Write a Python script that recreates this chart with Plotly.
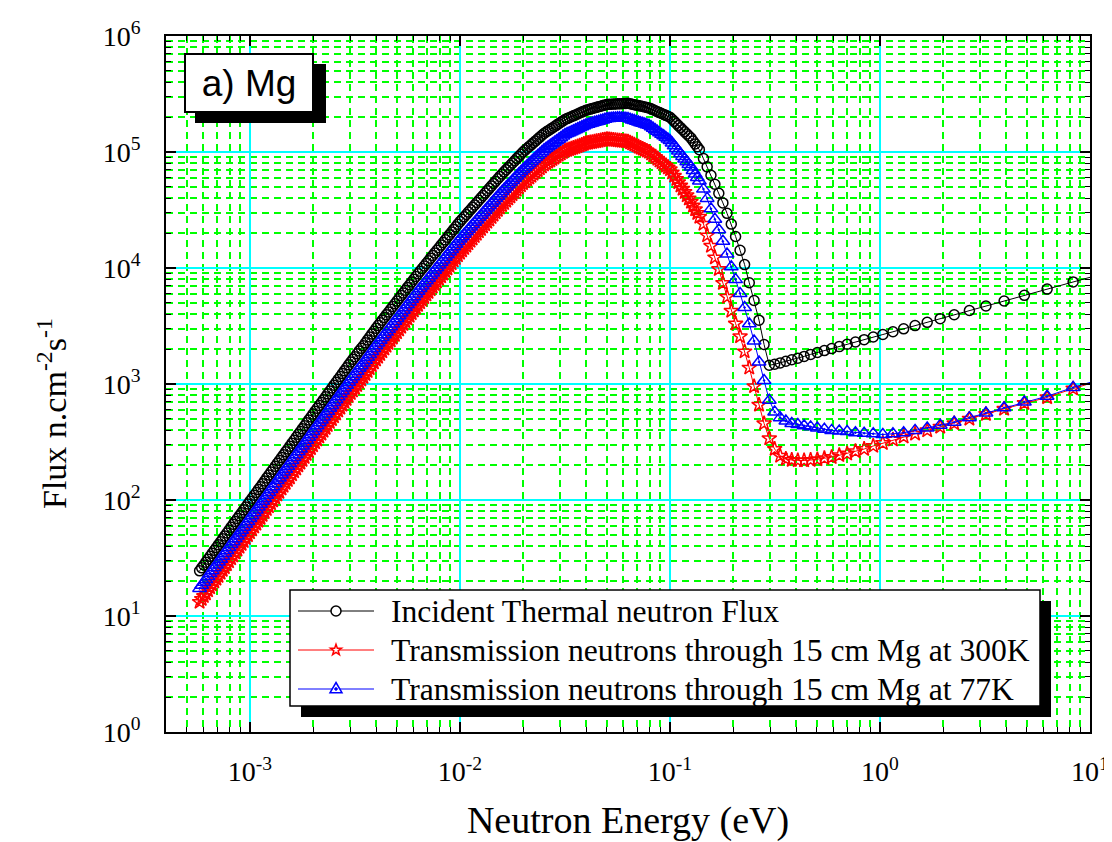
import plotly.graph_objects as go

# Neutron energy (eV), shared by all three series
energy_eV = [
    5.754e-4, 5.888e-4, 6.026e-4, 6.166e-4, 6.310e-4, 6.457e-4, 6.607e-4, 6.761e-4, 6.918e-4, 7.079e-4,
    7.244e-4, 7.413e-4, 7.586e-4, 7.762e-4, 7.943e-4, 8.128e-4, 8.318e-4, 8.511e-4, 8.710e-4, 8.913e-4,
    9.120e-4, 9.333e-4, 9.550e-4, 9.772e-4, 1.000e-3, 1.023e-3, 1.047e-3, 1.072e-3, 1.096e-3, 1.122e-3,
    1.148e-3, 1.175e-3, 1.202e-3, 1.230e-3, 1.259e-3, 1.288e-3, 1.318e-3, 1.349e-3, 1.380e-3, 1.413e-3,
    1.445e-3, 1.479e-3, 1.514e-3, 1.549e-3, 1.585e-3, 1.622e-3, 1.660e-3, 1.698e-3, 1.738e-3, 1.778e-3,
    1.820e-3, 1.862e-3, 1.905e-3, 1.950e-3, 1.995e-3, 2.042e-3, 2.089e-3, 2.138e-3, 2.188e-3, 2.239e-3,
    2.291e-3, 2.344e-3, 2.399e-3, 2.455e-3, 2.512e-3, 2.570e-3, 2.630e-3, 2.692e-3, 2.754e-3, 2.818e-3,
    2.884e-3, 2.951e-3, 3.020e-3, 3.090e-3, 3.162e-3, 3.236e-3, 3.311e-3, 3.388e-3, 3.467e-3, 3.548e-3,
    3.631e-3, 3.715e-3, 3.802e-3, 3.890e-3, 3.981e-3, 4.074e-3, 4.169e-3, 4.266e-3, 4.365e-3, 4.467e-3,
    4.571e-3, 4.677e-3, 4.786e-3, 4.898e-3, 5.012e-3, 5.129e-3, 5.248e-3, 5.370e-3, 5.495e-3, 5.623e-3,
    5.754e-3, 5.888e-3, 6.026e-3, 6.166e-3, 6.310e-3, 6.457e-3, 6.607e-3, 6.761e-3, 6.918e-3, 7.079e-3,
    7.244e-3, 7.413e-3, 7.586e-3, 7.762e-3, 7.943e-3, 8.128e-3, 8.318e-3, 8.511e-3, 8.710e-3, 8.913e-3,
    9.120e-3, 9.333e-3, 9.550e-3, 9.772e-3, 1.000e-2, 1.023e-2, 1.047e-2, 1.072e-2, 1.096e-2, 1.122e-2,
    1.148e-2, 1.175e-2, 1.202e-2, 1.230e-2, 1.259e-2, 1.288e-2, 1.318e-2, 1.349e-2, 1.380e-2, 1.413e-2,
    1.445e-2, 1.479e-2, 1.514e-2, 1.549e-2, 1.585e-2, 1.622e-2, 1.660e-2, 1.698e-2, 1.738e-2, 1.778e-2,
    1.820e-2, 1.862e-2, 1.905e-2, 1.950e-2, 1.995e-2, 2.042e-2, 2.089e-2, 2.138e-2, 2.188e-2, 2.239e-2,
    2.291e-2, 2.344e-2, 2.399e-2, 2.455e-2, 2.512e-2, 2.570e-2, 2.630e-2, 2.692e-2, 2.754e-2, 2.818e-2,
    2.884e-2, 2.951e-2, 3.020e-2, 3.090e-2, 3.162e-2, 3.236e-2, 3.311e-2, 3.388e-2, 3.467e-2, 3.548e-2,
    3.631e-2, 3.715e-2, 3.802e-2, 3.890e-2, 3.981e-2, 4.074e-2, 4.169e-2, 4.266e-2, 4.365e-2, 4.467e-2,
    4.571e-2, 4.677e-2, 4.786e-2, 4.898e-2, 5.012e-2, 5.129e-2, 5.248e-2, 5.370e-2, 5.495e-2, 5.623e-2,
    5.754e-2, 5.888e-2, 6.026e-2, 6.166e-2, 6.310e-2, 6.457e-2, 6.607e-2, 6.761e-2, 6.918e-2, 7.079e-2,
    7.244e-2, 7.413e-2, 7.586e-2, 7.762e-2, 7.943e-2, 8.128e-2, 8.318e-2, 8.511e-2, 8.710e-2, 8.913e-2,
    9.120e-2, 9.333e-2, 9.550e-2, 9.772e-2, 0.1000, 0.1023, 0.1047, 0.1072, 0.1096, 0.1122,
    0.1148, 0.1175, 0.1202, 0.1230, 0.1259, 0.1288, 0.1318, 0.1349, 0.1380,
    0.1443, 0.1503, 0.1567, 0.1636, 0.1708, 0.1786, 0.1869, 0.1958, 0.2053, 0.2156,
    0.2266, 0.2385, 0.2514, 0.2654, 0.2805, 0.2970, 0.3150, 0.3347, 0.3562, 0.3800,
    0.4061, 0.4351, 0.4673, 0.5031, 0.5433, 0.5886, 0.6397, 0.6977, 0.7640, 0.8403,
    0.9286, 1.0315, 1.1526, 1.296, 1.469, 1.678, 1.935, 2.256, 2.665, 3.195,
    3.90, 4.87, 6.25, 8.31, 11.59,
]

# Incident thermal neutron flux (n cm^-2 s^-1)
flux_incident = [
    24.5, 26.0, 27.5, 29.1, 30.9, 32.7, 34.7, 36.8, 38.9, 41.2,
    43.7, 46.3, 49.0, 51.9, 55.0, 58.3, 61.7, 65.4, 69.2, 73.3,
    77.6, 82.2, 87.1, 92.3, 97.7, 103.5, 110, 116, 123, 130,
    138, 146, 155, 164, 174, 184, 195, 207, 219, 232,
    245, 260, 275, 291, 309, 327, 347, 368, 389, 412,
    437, 463, 490, 519, 550, 583, 617, 654, 692, 733,
    776, 822, 871, 923, 977, 1034, 1096, 1161, 1230, 1303,
    1380, 1462, 1549, 1631, 1718, 1820, 1928, 2030, 2138, 2265,
    2399, 2541, 2692, 2851, 3020, 3188, 3365, 3552, 3750, 3958,
    4178, 4410, 4656, 4915, 5188, 5476, 5781, 6103, 6442, 6800,
    7178, 7577, 7998, 8443, 8913, 9387, 9886, 10410, 10960, 11540,
    12160, 12810, 13490, 14210, 14960, 15760, 16600, 17480, 18410, 19390,
    20420, 21510, 22650, 23860, 25120, 26330, 27610, 28940, 30340, 31810,
    33340, 34950, 36640, 38410, 40270, 42210, 44260, 46400, 48640, 50990,
    53460, 56040, 58750, 61590, 64570, 67450, 70470, 73620, 76910, 80340,
    83950, 87700, 91620, 95710, 100000, 103800, 107700, 111700, 115900, 120300,
    124700, 129400, 134300, 139300, 144500, 148600, 152800, 157000, 161400, 165900,
    170600, 175400, 180300, 185300, 190500, 194000, 197700, 201400, 205100, 208900,
    212800, 216800, 220800, 224900, 229100, 231800, 234400, 237100, 239900, 242700,
    245500, 248300, 251200, 254100, 257000, 257600, 258200, 258800, 259400, 260000,
    260600, 261200, 261800, 262400, 263000, 260600, 258200, 255800, 253500, 251200,
    248900, 246600, 244300, 242100, 239900, 235500, 231200, 227000, 222800, 218700,
    214800, 210900, 207000, 203200, 199500, 191400, 183700, 176200, 169000, 162200,
    155600, 149300, 143200, 137400, 131800, 124400, 117500, 110900, 104700,
    87700, 74500, 63100, 52700, 44000, 36400, 29600, 23900, 18700, 14200,
    10700, 7460, 5250, 3550, 2190, 1450, 1480, 1520, 1570, 1620,
    1670, 1730, 1800, 1870, 1940, 2020, 2100, 2200, 2300, 2410,
    2540, 2670, 2820, 2990, 3190, 3400, 3660, 3950, 4300, 4700,
    5190, 5810, 6580, 7590, 8950,
]

# Transmission through 15 cm Mg at 300 K
flux_300K = [
    13.2, 14.0, 14.8, 15.6, 16.6, 17.6, 18.6, 19.8, 20.9, 22.1,
    23.5, 24.9, 26.3, 27.9, 29.5, 31.3, 33.1, 35.1, 37.2, 39.4,
    41.7, 44.1, 46.8, 49.6, 52.5, 55.6, 58.9, 62.3, 66.1, 69.8,
    74.1, 78.4, 83.2, 88.1, 93.3, 98.8, 105, 111, 117, 125,
    132, 140, 148, 156, 166, 176, 186, 198, 209, 221,
    234, 249, 263, 279, 295, 313, 331, 351, 372, 394,
    417, 441, 468, 496, 525, 555, 589, 623, 661, 700,
    741, 785, 832, 876, 923, 977, 1035, 1090, 1148, 1216,
    1288, 1365, 1445, 1531, 1622, 1712, 1807, 1907, 2014, 2125,
    2244, 2368, 2500, 2639, 2786, 2941, 3105, 3277, 3459, 3652,
    3855, 4069, 4295, 4534, 4786, 5041, 5309, 5590, 5888, 6197,
    6531, 6879, 7244, 7631, 8035, 8463, 8913, 9387, 9886, 10410,
    10960, 11550, 12160, 12810, 13490, 14140, 14830, 15540, 16290, 17080,
    17910, 18770, 19680, 20630, 21630, 22670, 23770, 24920, 26120, 27380,
    28710, 30090, 31550, 33070, 34670, 36220, 37840, 39530, 41300, 43140,
    45080, 47090, 49200, 51400, 53700, 55740, 57810, 59980, 62230, 64600,
    66990, 69490, 72110, 74800, 77620, 79800, 82040, 84310, 86700, 89090,
    91620, 94190, 96830, 99510, 102300, 103800, 105400, 107000, 108600, 110200,
    111900, 113600, 115300, 117100, 118900, 119800, 120800, 121700, 122700, 123700,
    124700, 125700, 126800, 127800, 128800, 128200, 127600, 127000, 126500, 125900,
    125300, 124700, 124200, 123600, 123000, 120500, 118000, 115600, 113200, 110900,
    108600, 106400, 104200, 102100, 100000, 96610, 93330, 90160, 87100, 84140,
    81280, 78520, 75860, 73280, 70790, 66370, 62230, 58340, 54700, 51280,
    48080, 45080, 42270, 39630, 37150, 34470, 31990, 29680, 27540,
    23990, 19050, 15490, 12300, 9772, 7413, 5623, 4266, 3311, 2570,
    1905, 1380, 955, 661, 457, 339, 275, 240, 226, 221,
    219, 219, 221, 224, 229, 234, 243, 251, 263, 275,
    292, 309, 331, 351, 372, 398, 427, 457, 501, 550,
    610, 684, 767, 912, 1096,
]

# Transmission through 15 cm Mg at 77 K
flux_77K = [
    17.3, 18.4, 19.5, 20.6, 21.9, 23.2, 24.6, 26.1, 27.5, 29.2,
    30.9, 32.8, 34.7, 36.7, 38.9, 41.3, 43.7, 46.3, 49.0, 51.9,
    54.9, 58.2, 61.7, 65.3, 69.2, 73.3, 77.6, 82.1, 87.1, 92.0,
    97.7, 103, 110, 116, 123, 130, 138, 147, 155, 164,
    174, 184, 195, 206, 219, 232, 245, 261, 275, 292,
    309, 328, 347, 367, 389, 413, 437, 463, 490, 519,
    550, 582, 617, 653, 692, 732, 776, 822, 871, 923,
    977, 1035, 1096, 1155, 1216, 1289, 1365, 1437, 1514, 1604,
    1698, 1799, 1905, 2019, 2138, 2257, 2382, 2515, 2655, 2802,
    2958, 3122, 3296, 3480, 3673, 3877, 4093, 4321, 4560, 4814,
    5082, 5365, 5662, 5978, 6310, 6646, 6998, 7370, 7762, 8170,
    8610, 9069, 9550, 10060, 10590, 11160, 11750, 12380, 13030, 13730,
    14450, 15230, 16030, 16890, 17780, 18640, 19540, 20490, 21480, 22520,
    23600, 24740, 25940, 27190, 28510, 29890, 31330, 32850, 34430, 36100,
    37840, 39680, 41590, 43610, 45710, 47750, 49890, 52120, 54450, 56880,
    59430, 62090, 64860, 67760, 70790, 73620, 76560, 79610, 82790, 86100,
    89540, 93110, 96830, 100700, 104700, 107900, 111200, 114500, 118000, 121600,
    125300, 129100, 133000, 137100, 141300, 144100, 146900, 149800, 152800, 155600,
    158500, 161600, 164800, 168100, 171400, 173600, 175800, 178000, 180300, 182400,
    184500, 186800, 189200, 191600, 194100, 194700, 195400, 196100, 196800, 197000,
    197200, 196700, 196300, 195600, 195000, 192100, 189200, 186600, 184100, 181600,
    179100, 176600, 174200, 172000, 169800, 164800, 160000, 155300, 150700, 146200,
    141900, 137800, 133700, 129700, 125900, 119400, 113200, 107400, 101900, 96620,
    91620, 86890, 82410, 78160, 74130, 69190, 64570, 60260, 56230,
    47860, 39810, 32360, 26300, 21380, 16980, 13180, 10230, 7943, 6026,
    4571, 3311, 2344, 1549, 1072, 724, 575, 513, 479, 457,
    447, 437, 427, 417, 407, 398, 394, 389, 380, 376,
    372, 367, 372, 380, 398, 417, 442, 468, 513, 562,
    624, 700, 785, 933, 1120,
]

series_names = [
    "Incident Thermal neutron Flux",
    "Transmission neutrons through 15 cm Mg at 300K",
    "Transmission neutrons through 15 cm Mg at 77K",
]
series_colors = ["#000000", "#ff0000", "#0000ff"]

x_tickvals = [1e-3, 1e-2, 1e-1, 1, 10]
x_ticktext = ["10<sup>-3</sup>", "10<sup>-2</sup>", "10<sup>-1</sup>", "10<sup>0</sup>", "10<sup>1</sup>"]
y_tickvals = [1, 10, 100, 1e3, 1e4, 1e5, 1e6]
y_ticktext = ["10<sup>0</sup>", "10<sup>1</sup>", "10<sup>2</sup>", "10<sup>3</sup>",
              "10<sup>4</sup>", "10<sup>5</sup>", "10<sup>6</sup>"]
x_minor = [k * 10.0 ** n for n in range(-4, 1) for k in range(2, 10)]
y_minor = [k * 10.0 ** n for n in range(0, 6) for k in range(2, 10)]

SERIF = "Liberation Serif, Times New Roman, serif"

fig = go.Figure()
fig.add_trace(go.Scatter(
    x=energy_eV, y=flux_incident, name=series_names[0], mode="lines+markers",
    line=dict(color=series_colors[0], width=1),
    marker=dict(symbol="circle-open", size=10, color=series_colors[0], line=dict(width=1.5)),
))
fig.add_trace(go.Scatter(
    x=energy_eV, y=flux_300K, name=series_names[1], mode="lines+markers",
    line=dict(color=series_colors[1], width=1),
    marker=dict(symbol="star-open", size=11, color=series_colors[1], line=dict(width=1.5)),
))
fig.add_trace(go.Scatter(
    x=energy_eV, y=flux_77K, name=series_names[2], mode="lines+markers",
    line=dict(color=series_colors[2], width=1),
    marker=dict(symbol="triangle-up-open-dot", size=12, color=series_colors[2], line=dict(width=1.5)),
))

axis_common = dict(
    type="log", ticks="inside", ticklen=10, tickwidth=1.5, tickcolor="black",
    showline=True, linecolor="black", linewidth=1.5, mirror="ticks",
    showgrid=True, gridcolor="#00ffff", gridwidth=2, zeroline=False,
    tickfont=dict(family=SERIF, size=28, color="black"),
    tickmode="array", automargin=False,
)
minor_common = dict(tickmode="array", ticks="inside", ticklen=5, tickwidth=1.2, tickcolor="black",
                    showgrid=True, gridcolor="#00ff00", gridwidth=1.6, griddash="7px,5px")

# The page adds an 8 px body margin, so the figure is drawn 8 px smaller.
fig.update_layout(
    width=1104, height=834,
    margin=dict(l=158, r=22, t=28, b=110, autoexpand=False),
    paper_bgcolor="white", plot_bgcolor="white",
    showlegend=False,
    xaxis=dict(axis_common, range=[-3.4, 1.0], tickvals=x_tickvals, ticktext=x_ticktext,
               ticklabelstandoff=14,
               minor=dict(minor_common, tickvals=x_minor),
               title=dict(text="Neutron Energy (eV)", font=dict(family=SERIF, size=38, color="black"),
                          standoff=20)),
    yaxis=dict(axis_common, range=[0, 6], tickvals=y_tickvals, ticktext=y_ticktext,
               ticklabelstandoff=18,
               minor=dict(minor_common, tickvals=y_minor)),
)


def px_x(p):
    """screen x (reference pixels) -> paper x"""
    return (p - 166) / 924.0


def px_y(p):
    """screen y (reference pixels) -> paper y"""
    return (732 - p) / 696.0


# y-axis title (sits a little below the axis centre in the original)
fig.add_annotation(
    text="Flux n.cm<sup>-2</sup>s<sup>-1</sup>", xref="paper", yref="paper",
    x=px_x(52), y=px_y(414), xanchor="center", yanchor="middle", textangle=-90,
    showarrow=False, font=dict(family=SERIF, size=34, color="black"),
)

# "a) Mg" label with drop shadow
fig.add_shape(type="rect", xref="paper", yref="paper", x0=px_x(195), x1=px_x(326), y0=px_y(123), y1=px_y(64),
              fillcolor="black", line=dict(width=0), layer="above")
fig.add_annotation(
    text="a) Mg", xref="paper", yref="paper", x=px_x(184), y=px_y(53), xanchor="left", yanchor="top",
    showarrow=False, font=dict(family="Liberation Sans, Arial, sans-serif", size=37, color="black"),
    bgcolor="white", bordercolor="black", borderwidth=2, borderpad=0, width=126, height=56,
    align="center", valign="middle",
)

# Legend box with drop shadow
fig.add_shape(type="rect", xref="paper", yref="paper", x0=px_x(301), x1=px_x(1051), y0=px_y(717), y1=px_y(601),
              fillcolor="black", line=dict(width=0), layer="above")
fig.add_shape(type="rect", xref="paper", yref="paper", x0=px_x(290), x1=px_x(1040), y0=px_y(706), y1=px_y(590),
              fillcolor="white", line=dict(color="black", width=1.5), layer="above")

row_y = [px_y(611), px_y(650), px_y(689)]
sym_x = px_x(336)
star_path = ("M0,5.8 L-1.35,1.86 L-5.52,1.79 L-2.18,-0.71 L-3.41,-4.69 L0,-2.3 "
             "L3.41,-4.69 L2.18,-0.71 L5.52,1.79 L1.35,1.86 Z")
tri_path = "M0,6.5 L6,-3.8 L-6,-3.8 Z"
for i, (name, col) in enumerate(zip(series_names, series_colors)):
    yy = row_y[i]
    fig.add_shape(type="line", xref="paper", yref="paper", x0=px_x(298), x1=px_x(374), y0=yy, y1=yy,
                  line=dict(color=col, width=1), layer="above")
    common = dict(xref="paper", yref="paper", xsizemode="pixel", ysizemode="pixel",
                  xanchor=sym_x, yanchor=yy, layer="above", fillcolor="white",
                  line=dict(color=col, width=1.5))
    if i == 0:
        fig.add_shape(type="circle", x0=-5, x1=5, y0=-5, y1=5, **common)
    elif i == 1:
        fig.add_shape(type="path", path=star_path, **common)
    else:
        fig.add_shape(type="path", path=tri_path, **common)
        fig.add_shape(type="circle", x0=-1.3, x1=1.3, y0=-1.3, y1=1.3,
                      **dict(common, fillcolor=col, line=dict(color=col, width=1)))
    fig.add_annotation(text=name, xref="paper", yref="paper", x=px_x(389), y=yy,
                       xanchor="left", yanchor="middle", showarrow=False,
                       font=dict(family=SERIF, size=31.6, color="black"))

fig.write_html("out.html")
